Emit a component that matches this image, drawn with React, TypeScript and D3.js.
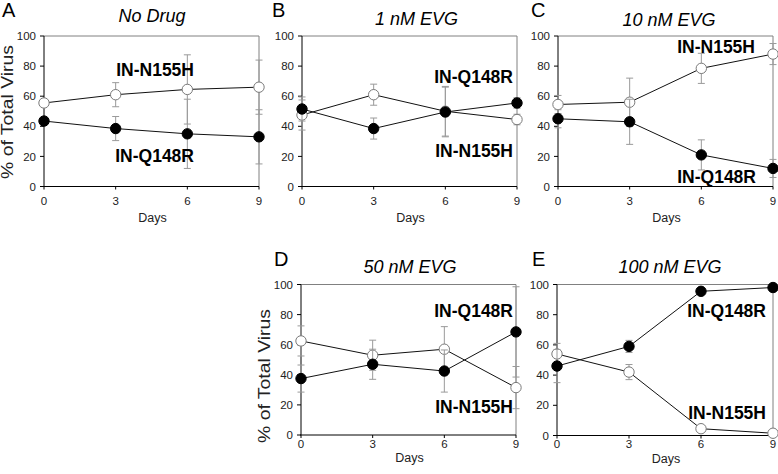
import React from "react";
import * as d3 from "d3";

// ---------- data ----------
const days = [0, 3, 6, 9];
const yTicks = [0, 20, 40, 60, 80, 100];
const panelLetters = ["A", "B", "C", "D", "E"];
const panelTitles = ["No Drug", "1 nM EVG", "10 nM EVG", "50 nM EVG", "100 nM EVG"];
const seriesNames = ["IN-N155H", "IN-Q148R"];
const xTitle = "Days";
const yTitle = "% of Total Virus";

// IN-N155H (open circles) mean / error per panel
const n155hA = [55.5, 61, 64.5, 66];
const n155hErrA = [2, 8, 23, 18];
const n155hB = [47.5, 61, 50, 44.5];
const n155hErrB = [10, 7, 16.5, 3.5];
const n155hC = [54.5, 56, 78.5, 88];
const n155hErrC = [6, 16, 10, 7];
const n155hD = [62.5, 53, 57, 31.5];
const n155hErrD = [10, 10, 15, 14];
const n155hE = [54, 42, 4.5, 1.5];
const n155hErrE = [7, 5, 1, 1];

// IN-Q148R (filled circles) mean / error per panel
const q148rA = [43.5, 38.5, 35, 33];
const q148rErrA = [2, 8, 23, 18];
const q148rB = [51.5, 38.5, 49.5, 55.5];
const q148rErrB = [8, 7, 16.5, 3.5];
const q148rC = [45, 43, 21, 12];
const q148rErrC = [6, 15, 10, 6];
const q148rD = [37.5, 47, 42.5, 68.5];
const q148rErrD = [9, 10, 14, 30];
const q148rE = [46, 59, 95.5, 98];
const q148rErrE = [11, 4, 1, 1];

const n155hMeans = [n155hA, n155hB, n155hC, n155hD, n155hE];
const n155hErrs = [n155hErrA, n155hErrB, n155hErrC, n155hErrD, n155hErrE];
const q148rMeans = [q148rA, q148rB, q148rC, q148rD, q148rE];
const q148rErrs = [q148rErrA, q148rErrB, q148rErrC, q148rErrD, q148rErrE];

// ---------- layout (positions only) ----------
type Layout = {
  left: number; right: number; top: number; bottom: number;
  letterX: number; letterY: number;
  titleX: number; titleY: number;
  tickLabelDy: number; xTitleDy: number;
  yTitle: boolean; yTitleCy: number;
  n155hLabel: [number, number]; q148rLabel: [number, number];
};

const layouts: Layout[] = [
  { left: 44, right: 259, top: 36, bottom: 186.5, letterX: 2, letterY: 17, titleX: 152, titleY: 21.5,
    tickLabelDy: 18, xTitleDy: 35, yTitle: true, yTitleCy: 112,
    n155hLabel: [194, 76], q148rLabel: [194, 162] },
  { left: 302, right: 517, top: 36, bottom: 186.5, letterX: 272, letterY: 17, titleX: 416.5, titleY: 25,
    tickLabelDy: 18, xTitleDy: 35, yTitle: false, yTitleCy: 0,
    n155hLabel: [513, 157], q148rLabel: [513, 83] },
  { left: 558, right: 773, top: 36, bottom: 186.5, letterX: 531, letterY: 17, titleX: 669, titleY: 26,
    tickLabelDy: 18, xTitleDy: 35, yTitle: false, yTitleCy: 0,
    n155hLabel: [755, 52.5], q148rLabel: [756, 183] },
  { left: 301, right: 516, top: 284.5, bottom: 435, letterX: 274, letterY: 266, titleX: 410, titleY: 273,
    tickLabelDy: 12.5, xTitleDy: 27, yTitle: true, yTitleCy: 376,
    n155hLabel: [513, 413], q148rLabel: [513, 316.5] },
  { left: 557, right: 773, top: 284.5, bottom: 435.5, letterX: 532, letterY: 266, titleX: 670, titleY: 273,
    tickLabelDy: 12, xTitleDy: 27, yTitle: false, yTitleCy: 0,
    n155hLabel: [766, 419], q148rLabel: [766, 316.5] },
];

const FONT = "Arial, 'Liberation Sans', Helvetica, sans-serif";
const ERR_COLOR = "#9a9a9a";
const FRAME_GRAY = "#808080";

function Panel({ i }: { i: number }) {
  const L = layouts[i];
  const x = d3.scaleLinear().domain([0, 9]).range([L.left, L.right]);
  const y = d3.scaleLinear().domain([0, 100]).range([L.bottom, L.top]);
  const line = d3.line<number>().x((_, k) => x(days[k])).y((v) => y(v));

  const series = [
    { means: n155hMeans[i], errs: n155hErrs[i], fill: "#ffffff", stroke: "#7a7a7a" },
    { means: q148rMeans[i], errs: q148rErrs[i], fill: "#000000", stroke: "#000000" },
  ];

  return (
    <g>
      {/* frame: gray top/right, black left/bottom */}
      <line x1={L.left} x2={L.right} y1={L.top} y2={L.top} stroke={FRAME_GRAY} strokeWidth={1} />
      <line x1={L.right} x2={L.right} y1={L.top} y2={L.bottom} stroke={FRAME_GRAY} strokeWidth={1} />
      <line x1={L.left} x2={L.left} y1={L.top} y2={L.bottom} stroke="#000" strokeWidth={1} />
      <line x1={L.left - 1} x2={L.right} y1={L.bottom} y2={L.bottom} stroke="#000" strokeWidth={1} />

      {/* y ticks */}
      {yTicks.map((t) => (
        <g key={"y" + t}>
          <line x1={L.left - 4} x2={L.left} y1={y(t)} y2={y(t)} stroke="#000" strokeWidth={1} />
          <text x={L.left - 8} y={y(t)} dy="0.36em" textAnchor="end" fontSize={11.5} fill="#222" fontFamily={FONT}>
            {t}
          </text>
        </g>
      ))}
      {/* x ticks */}
      {days.map((d) => (
        <g key={"x" + d}>
          <line x1={x(d)} x2={x(d)} y1={L.bottom} y2={L.bottom + 3} stroke="#000" strokeWidth={1} />
          <text x={x(d)} y={L.bottom + L.tickLabelDy} textAnchor="middle" fontSize={11.5} fill="#222" fontFamily={FONT}>
            {d}
          </text>
        </g>
      ))}

      {/* axis titles */}
      <text x={(L.left + L.right) / 2 + 1} y={L.bottom + L.xTitleDy} textAnchor="middle" fontSize={12.5} fill="#222" fontFamily={FONT}>
        {xTitle}
      </text>
      {L.yTitle && (
        <text
          transform={`translate(${L.left - 31},${L.yTitleCy}) rotate(-90)`}
          textAnchor="middle"
          fontSize={16}
          fill="#222"
          fontFamily={FONT}
          textLength={134}
          lengthAdjust="spacingAndGlyphs"
        >
          {yTitle}
        </text>
      )}

      {/* panel letter and title */}
      <text x={L.letterX} y={L.letterY} fontSize={20} fill="#000" fontFamily={FONT}>
        {panelLetters[i]}
      </text>
      <text x={L.titleX} y={L.titleY} textAnchor="middle" fontSize={18} fontStyle="italic" fill="#000" fontFamily={FONT}>
        {panelTitles[i]}
      </text>

      {/* series */}
      {series.map((s, si) => (
        <g key={"s" + si}>
          {s.means.map((m, k) => {
            const e = s.errs[k];
            const cx = x(days[k]);
            return (
              <g key={"e" + k} stroke={ERR_COLOR} strokeWidth={1}>
                <line x1={cx} x2={cx} y1={y(Math.min(100, m + e))} y2={y(Math.max(0, m - e))} />
                <line x1={cx - 3.5} x2={cx + 3.5} y1={y(Math.min(100, m + e))} y2={y(Math.min(100, m + e))} />
                <line x1={cx - 3.5} x2={cx + 3.5} y1={y(Math.max(0, m - e))} y2={y(Math.max(0, m - e))} />
              </g>
            );
          })}
          <path d={line(s.means) || ""} fill="none" stroke="#111" strokeWidth={1} />
          {s.means.map((m, k) => (
            <circle key={"c" + k} cx={x(days[k])} cy={y(m)} r={5.2} fill={s.fill} stroke={s.stroke} strokeWidth={1} />
          ))}
        </g>
      ))}

      {/* series labels */}
      <text x={L.n155hLabel[0]} y={L.n155hLabel[1]} textAnchor="end" fontSize={17.5} fontWeight="bold" fill="#000" fontFamily={FONT}>
        {seriesNames[0]}
      </text>
      <text x={L.q148rLabel[0]} y={L.q148rLabel[1]} textAnchor="end" fontSize={17.5} fontWeight="bold" fill="#000" fontFamily={FONT}>
        {seriesNames[1]}
      </text>
    </g>
  );
}

export default function App() {
  return (
    <svg
      width={778}
      height={474}
      viewBox="0 0 778 474"
      style={{ position: "absolute", left: 0, top: 0, background: "#fff" }}
    >
      <rect x={0} y={0} width={778} height={474} fill="#fff" />
      {layouts.map((_, i) => (
        <Panel key={i} i={i} />
      ))}
    </svg>
  );
}
